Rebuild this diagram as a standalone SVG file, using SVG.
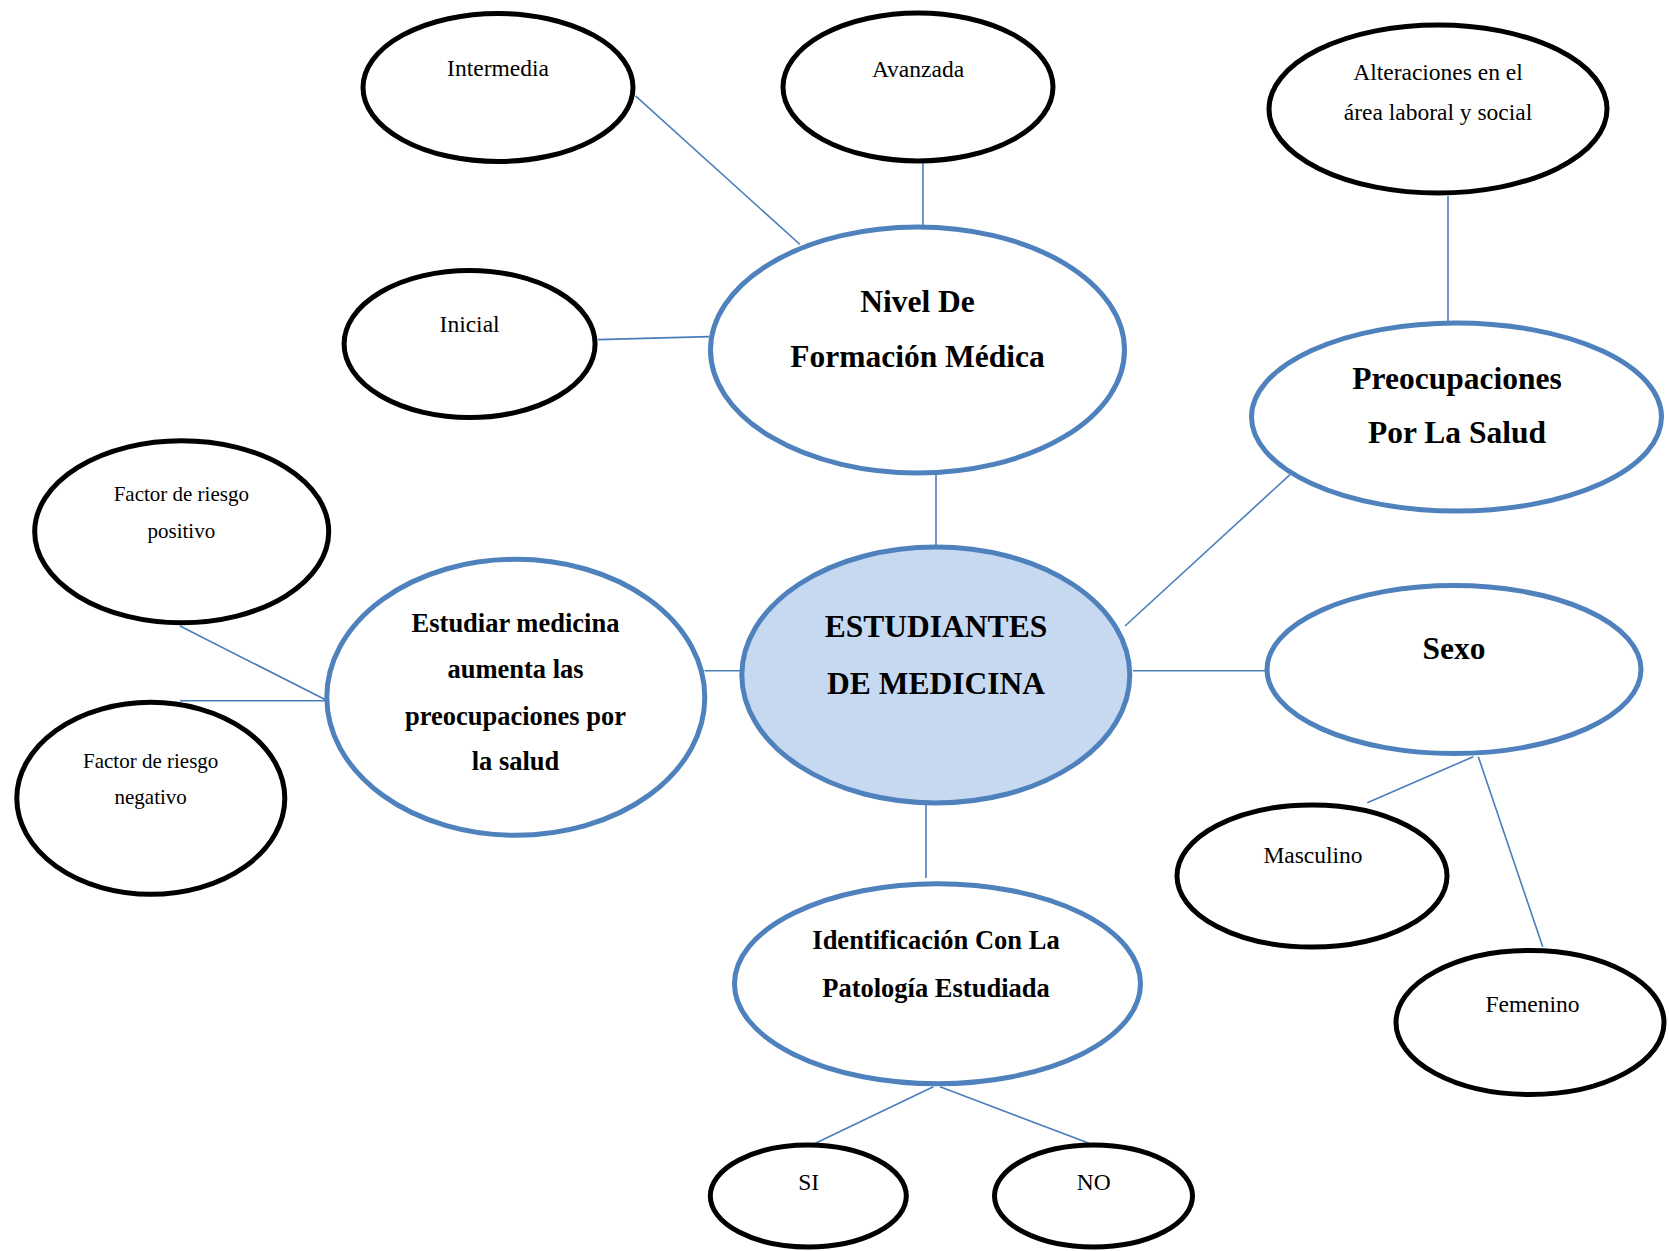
<svg xmlns="http://www.w3.org/2000/svg" width="1669" height="1251" viewBox="0 0 1669 1251">
  <style>
    .bg { fill: #ffffff; }
    .main { fill: #ffffff; stroke: #4F81BD; stroke-width: 5; }
    .core { fill: #C6D9F1; stroke: #4F81BD; stroke-width: 5; }
    .leaf { fill: #ffffff; stroke: #000000; stroke-width: 5; }
    .link { stroke: #4A7EBB; stroke-width: 1.6; fill: none; }
    text { font-family: "Liberation Serif", "Times New Roman", serif; fill: #000000; text-anchor: middle; }
    .b32 { font-size: 31.5px; font-weight: bold; }
    .b26 { font-size: 26.5px; font-weight: bold; }
    .r23 { font-size: 23.5px; }
    .r21 { font-size: 21px; }
  </style>
  <rect class="bg" x="0" y="0" width="1669" height="1251"/>

  <g id="connectors">
    <line class="link" x1="635.5" y1="95.8" x2="800" y2="244.5"/>
    <line class="link" x1="923" y1="162" x2="923" y2="226"/>
    <line class="link" x1="598" y1="339.6" x2="709" y2="336.6"/>
    <line class="link" x1="936" y1="474" x2="936" y2="546"/>
    <line class="link" x1="1448" y1="196" x2="1448" y2="322"/>
    <line class="link" x1="1290" y1="474.7" x2="1125" y2="626"/>
    <line class="link" x1="1133" y1="670.7" x2="1267" y2="670.7"/>
    <line class="link" x1="704.6" y1="670.7" x2="740" y2="670.7"/>
    <line class="link" x1="180" y1="626" x2="325" y2="699.5"/>
    <line class="link" x1="180" y1="700.7" x2="325" y2="700.7"/>
    <line class="link" x1="926" y1="805" x2="926" y2="878"/>
    <line class="link" x1="1473.3" y1="756.7" x2="1367.3" y2="802.7"/>
    <line class="link" x1="1478.3" y1="756.7" x2="1542.7" y2="946.7"/>
    <line class="link" x1="933.3" y1="1086.7" x2="813.3" y2="1144.3"/>
    <line class="link" x1="940" y1="1086.7" x2="1091.7" y2="1144.3"/>
  </g>

  <g id="node-intermedia">
    <ellipse class="leaf" cx="498" cy="87.5" rx="135" ry="74"/>
    <text class="r23" x="498" y="76">Intermedia</text>
  </g>
  <g id="node-avanzada">
    <ellipse class="leaf" cx="918" cy="87" rx="135" ry="74"/>
    <text class="r23" x="918" y="76.5">Avanzada</text>
  </g>
  <g id="node-inicial">
    <ellipse class="leaf" cx="469.6" cy="344" rx="125.5" ry="73.5"/>
    <text class="r23" x="469.6" y="331.5">Inicial</text>
  </g>
  <g id="node-nivel">
    <ellipse class="main" cx="917.5" cy="350" rx="207" ry="123"/>
    <text class="b32" x="917.5" y="311.5">Nivel De</text>
    <text class="b32" x="917.5" y="366.5">Formación Médica</text>
  </g>
  <g id="node-alteraciones">
    <ellipse class="leaf" cx="1438" cy="109" rx="169" ry="84"/>
    <text class="r23" x="1438" y="80">Alteraciones en el</text>
    <text class="r23" x="1438" y="120">área laboral y social</text>
  </g>
  <g id="node-preocupaciones">
    <ellipse class="main" cx="1456.5" cy="417" rx="205" ry="94"/>
    <text class="b32" x="1457" y="389.3">Preocupaciones</text>
    <text class="b32" x="1457" y="443.3">Por La Salud</text>
  </g>
  <g id="node-factor-positivo">
    <ellipse class="leaf" cx="181.7" cy="531.7" rx="147" ry="91"/>
    <text class="r21" x="181.3" y="500.7">Factor de riesgo</text>
    <text class="r21" x="181.3" y="537.5">positivo</text>
  </g>
  <g id="node-factor-negativo">
    <ellipse class="leaf" cx="150.8" cy="798.3" rx="134" ry="96"/>
    <text class="r21" x="150.7" y="768.3">Factor de riesgo</text>
    <text class="r21" x="150.7" y="804">negativo</text>
  </g>
  <g id="node-estudiar">
    <ellipse class="main" cx="515.8" cy="697.3" rx="189" ry="138"/>
    <text class="b26" x="515.5" y="631.7">Estudiar medicina</text>
    <text class="b26" x="515.5" y="678.3">aumenta las</text>
    <text class="b26" x="515.5" y="725">preocupaciones por</text>
    <text class="b26" x="515.5" y="770">la salud</text>
  </g>
  <g id="node-estudiantes">
    <ellipse class="core" cx="935.8" cy="675" rx="194" ry="128"/>
    <text class="b32" x="936" y="636.7">ESTUDIANTES</text>
    <text class="b32" x="936" y="694">DE MEDICINA</text>
  </g>
  <g id="node-sexo">
    <ellipse class="main" cx="1454" cy="669.5" rx="187" ry="84"/>
    <text class="b32" x="1454" y="659">Sexo</text>
  </g>
  <g id="node-masculino">
    <ellipse class="leaf" cx="1312" cy="876" rx="135" ry="71"/>
    <text class="r23" x="1313" y="863.3">Masculino</text>
  </g>
  <g id="node-femenino">
    <ellipse class="leaf" cx="1530" cy="1022.5" rx="134" ry="72"/>
    <text class="r23" x="1532.5" y="1011.7">Femenino</text>
  </g>
  <g id="node-identificacion">
    <ellipse class="main" cx="937.5" cy="983.7" rx="203" ry="100"/>
    <text class="b26" x="936" y="949.3">Identificación Con La</text>
    <text class="b26" x="936" y="996.7">Patología Estudiada</text>
  </g>
  <g id="node-si">
    <ellipse class="leaf" cx="808.3" cy="1196" rx="98" ry="51"/>
    <text class="r23" x="808.7" y="1190">SI</text>
  </g>
  <g id="node-no">
    <ellipse class="leaf" cx="1093.5" cy="1196" rx="99" ry="51"/>
    <text class="r23" x="1093.7" y="1190">NO</text>
  </g>
</svg>
